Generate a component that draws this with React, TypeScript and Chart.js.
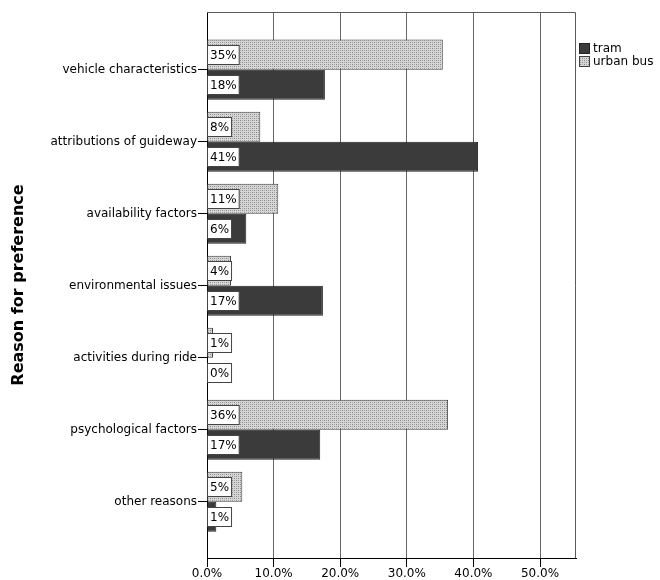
import React, { useEffect, useRef } from 'react';
import { Chart, registerables } from 'chart.js';

Chart.register(...registerables);

const categories = [
  'vehicle characteristics',
  'attributions of guideway',
  'availability factors',
  'environmental issues',
  'activities during ride',
  'psychological factors',
  'other reasons',
];
const busValues = [35.4, 8.0, 10.7, 3.6, 0.9, 36.2, 5.3];
const tramValues = [17.7, 40.7, 5.9, 17.4, 0.0, 17.0, 1.4];
const seriesNames = ['urban bus', 'tram'];
const xTickValues = [0, 10, 20, 30, 40, 50];
const xMax = 55.4;

const FONT = 'DejaVu Sans';

function makeDotPattern(): CanvasPattern | string {
  const c = document.createElement('canvas');
  c.width = 4;
  c.height = 4;
  const g = c.getContext('2d');
  if (!g) return '#c4c4c4';
  g.fillStyle = '#d6d6d6';
  g.fillRect(0, 0, 4, 4);
  g.fillStyle = '#858585';
  g.fillRect(0, 0, 1, 1);
  g.fillRect(2, 2, 1, 1);
  g.fillStyle = '#a8a8a8';
  g.fillRect(2, 0, 1, 1);
  g.fillRect(0, 2, 1, 1);
  const p = g.createPattern(c, 'repeat');
  return p || '#c4c4c4';
}

export default function App() {
  const canvasRef = useRef<HTMLCanvasElement | null>(null);

  useEffect(() => {
    document.body.style.margin = '0';
    const canvas = canvasRef.current;
    if (!canvas) return;
    const pattern = makeDotPattern();

    const valueLabelPlugin = {
      id: 'valueLabels',
      afterDatasetsDraw(chart: any) {
        const ctx = chart.ctx;
        ctx.save();
        ctx.font = `12px "${FONT}"`;
        ctx.textBaseline = 'middle';
        ctx.textAlign = 'left';
        chart.data.datasets.forEach((ds: any, di: number) => {
          const meta = chart.getDatasetMeta(di);
          meta.data.forEach((el: any, i: number) => {
            const v = ds.data[i].x;
            const txt = Math.round(v) + '%';
            const w = ctx.measureText(txt).width + 5;
            const h = 19;
            const x0 = chart.chartArea.left + 0.5;
            const y0 = Math.round(el.y - h / 2) + 0.5;
            ctx.fillStyle = '#ffffff';
            ctx.fillRect(x0, y0, w, h);
            ctx.strokeStyle = '#444444';
            ctx.lineWidth = 1;
            ctx.strokeRect(x0, y0, w, h);
            ctx.fillStyle = '#000000';
            ctx.fillText(txt, x0 + 2.5, el.y + 1);
          });
        });
        ctx.restore();
      },
    };

    const framePlugin = {
      id: 'frame',
      afterDraw(chart: any) {
        const { left, right, top, bottom } = chart.chartArea;
        const ctx = chart.ctx;
        ctx.save();
        ctx.strokeStyle = '#5a5a5a';
        ctx.lineWidth = 1;
        ctx.beginPath();
        ctx.moveTo(left, top + 0.5);
        ctx.lineTo(right - 0.5, top + 0.5);
        ctx.lineTo(right - 0.5, bottom);
        ctx.stroke();
        ctx.restore();
      },
    };

    const legendPlugin = {
      id: 'sideLegend',
      afterDraw(chart: any) {
        const ctx = chart.ctx;
        const { right, top } = chart.chartArea;
        const order = chart.data.datasets.map((_: any, i: number) => i).reverse();
        ctx.save();
        ctx.font = `12px "${FONT}"`;
        ctx.textBaseline = 'middle';
        ctx.textAlign = 'left';
        order.forEach((di: number, k: number) => {
          const ds = chart.data.datasets[di];
          const bx = right + 3;
          const by = top + 31 + k * 13;
          ctx.fillStyle = ds.backgroundColor;
          ctx.fillRect(bx, by, 11, 11);
          ctx.strokeStyle = ds.borderColor;
          ctx.lineWidth = 1;
          ctx.strokeRect(bx + 0.5, by + 0.5, 10, 10);
          ctx.fillStyle = '#000000';
          ctx.fillText(ds.label, bx + 14, by + 6);
        });
        ctx.restore();
      },
    };

    const chart = new Chart(canvas, {
      type: 'bar',
      data: {
        datasets: [
          {
            label: seriesNames[0],
            data: busValues.map((v, i) => ({ x: v, y: i })),
            backgroundColor: pattern as any,
            borderColor: '#404040',
            borderWidth: 1,
            categoryPercentage: 0.833,
            barPercentage: 1,
          },
          {
            label: seriesNames[1],
            data: tramValues.map((v, i) => ({ x: v, y: i })),
            backgroundColor: '#3b3b3b',
            borderColor: '#222222',
            borderWidth: 1,
            categoryPercentage: 0.833,
            barPercentage: 1,
          },
        ],
      },
      options: {
        indexAxis: 'y',
        responsive: false,
        animation: false,
        events: [],
        layout: { padding: { top: 12, right: 84, left: 0, bottom: 0 } },
        plugins: {
          legend: { display: false },
          tooltip: { enabled: false },
        },
        scales: {
          x: {
            type: 'linear',
            min: 0,
            max: xMax,
            afterBuildTicks(scale: any) {
              scale.ticks = xTickValues.map((v) => ({ value: v }));
            },
            afterFit(scale: any) {
              scale.height = 22;
            },
            ticks: {
              callback: (v: any) => Number(v).toFixed(1) + '%',
              font: { family: FONT, size: 12 },
              color: '#000000',
              padding: 0,
              maxRotation: 0,
            },
            grid: {
              color: '#666666',
              lineWidth: 1,
              tickLength: 9,
              tickColor: '#000000',
            },
            border: { color: '#000000', width: 1 },
          },
          y: {
            type: 'linear',
            reverse: true,
            offset: false,
            min: -0.8,
            max: 6.78,
            afterBuildTicks(scale: any) {
              scale.ticks = categories.map((_, i) => ({ value: i }));
            },
            afterFit(scale: any) {
              scale.width = 207;
            },
            ticks: {
              callback: (v: any) => categories[v] ?? '',
              font: { family: FONT, size: 12 },
              color: '#000000',
              padding: 1,
              autoSkip: false,
            },
            grid: {
              offset: false,
              drawOnChartArea: false,
              tickLength: 9,
              tickColor: '#000000',
            },
            border: { color: '#000000', width: 1 },
            title: {
              display: true,
              text: 'Reason for preference',
              font: { family: FONT, size: 16, weight: 'bold' },
              color: '#000000',
              padding: { top: 9, bottom: 0 },
            },
          },
        },
      } as any,
      plugins: [valueLabelPlugin, framePlugin, legendPlugin],
    });

    return () => {
      chart.destroy();
    };
  }, []);

  return (
    <div style={{ width: 660, height: 580, position: 'relative' }}>
      <canvas ref={canvasRef} width={660} height={580} style={{ display: 'block' }} />
    </div>
  );
}
